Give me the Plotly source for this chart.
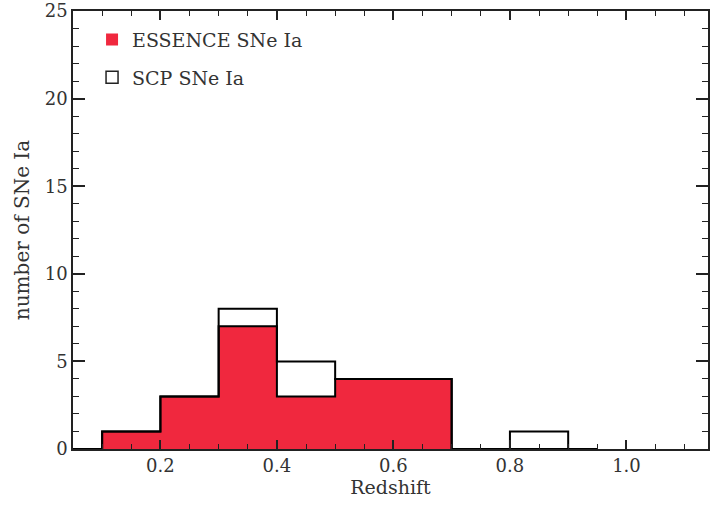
import plotly.graph_objects as go

# Histogram bins (redshift edges) and counts
bin_edges = [0.05, 0.1, 0.2, 0.3, 0.4, 0.5, 0.6, 0.7, 0.8, 0.9, 0.95]
essence_counts = [0, 1, 3, 7, 3, 4, 4, 0, 0, 0]
scp_counts = [0, 0, 0, 1, 2, 0, 0, 0, 1, 0]
total_counts = [e + s for e, s in zip(essence_counts, scp_counts)]

RED = "#F0283E"
INK = "#222222"
TXT = "#333333"
FONT = "DejaVu Serif"

def step_xy(edges, counts):
    xs = list(edges)
    ys = list(counts) + [counts[-1]]
    return xs, ys

fig = go.Figure()

ex, ey = step_xy(bin_edges, essence_counts)
fig.add_trace(go.Scatter(x=ex, y=ey, mode="lines", line=dict(shape="hv", color="black", width=2),
                         fill="tozeroy", fillcolor=RED, showlegend=False, hoverinfo="skip"))
tx, ty = step_xy(bin_edges, total_counts)
fig.add_trace(go.Scatter(x=tx, y=ty, mode="lines", line=dict(shape="hv", color="black", width=2),
                         showlegend=False, hoverinfo="skip"))

# legend entries
fig.add_trace(go.Scatter(x=[None], y=[None], mode="markers", name="ESSENCE SNe Ia",
                         legendgroup="a",
                         marker=dict(symbol="square", color=RED, size=12, line=dict(width=0))))
fig.add_trace(go.Scatter(x=[None], y=[None], mode="markers", name="SCP SNe Ia",
                         legendgroup="b",
                         marker=dict(symbol="square-open", color=INK, size=12, line=dict(width=1.5))))

fig.update_layout(
    width=710, height=506,
    margin=dict(l=73, r=0, t=10, b=57),
    paper_bgcolor="white", plot_bgcolor="white",
    font=dict(family=FONT, color=TXT, size=18),
    legend=dict(x=0.03, y=0.978, xanchor="left", yanchor="top",
                font=dict(size=19, family=FONT, color=TXT),
                traceorder="grouped", tracegroupgap=10,
                bgcolor="rgba(0,0,0,0)"),
    xaxis=dict(range=[0.05, 1.14], tickvals=[0.2, 0.4, 0.6, 0.8, 1.0],
               ticktext=["0.2", "0.4", "0.6", "0.8", "1.0"],
               ticks="inside", ticklen=9, tickwidth=1.5, tickcolor=INK,
               minor=dict(dtick=0.05, tick0=0, ticks="inside", ticklen=5, tickwidth=1.2, tickcolor=INK),
               showline=True, linecolor=INK, linewidth=1.5, mirror="ticks",
               showgrid=False, zeroline=False,
               title=dict(text="Redshift", font=dict(size=19), standoff=4),
               tickfont=dict(size=18)),
    yaxis=dict(range=[0, 25], dtick=5, tick0=0,
               ticks="inside", ticklen=12, tickwidth=1.5, tickcolor=INK,
               minor=dict(dtick=1, ticks="inside", ticklen=6, tickwidth=1.2, tickcolor=INK),
               showline=True, linecolor=INK, linewidth=1.5, mirror="ticks",
               showgrid=False, zeroline=False, ticklabeloverflow="allow",
               title=dict(text="number of SNe Ia", font=dict(size=20), standoff=10),
               tickfont=dict(size=18)),
)

fig.write_html("out.html")
